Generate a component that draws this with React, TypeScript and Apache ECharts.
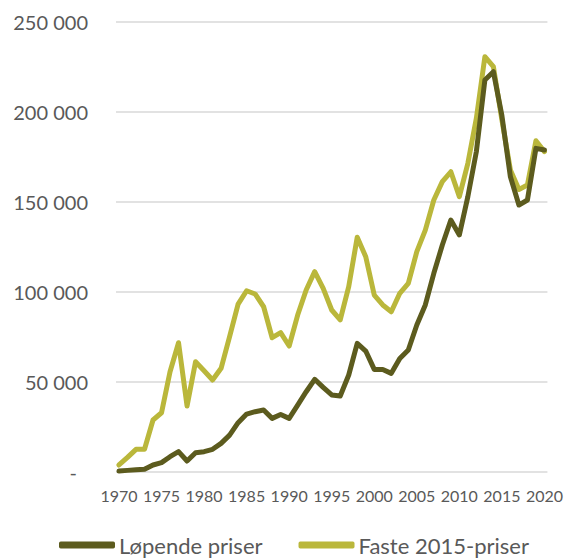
import React, { useEffect, useRef } from "react";
import * as echarts from "echarts";

const years: number[] = [];
for (let y = 1970; y <= 2020; y++) years.push(y);

const lopende: number[] = [
  500, 900, 1200, 1500, 3900, 5200, 8500, 11300, 6100, 10700,
  11300, 12600, 15900, 20500, 27400, 32200, 33500, 34400, 29800, 32000,
  29800, 37200, 44600, 51500, 47000, 42800, 42200, 53900, 71500, 67200,
  57000, 57000, 54800, 63100, 67800, 81700, 92800, 110400, 126100, 140000,
  131700, 153000, 178000, 217800, 222400, 198000, 164000, 148300, 151100, 179800,
  178900,
];

const faste: number[] = [
  3900, 8100, 12600, 12600, 28900, 32900, 55700, 71800, 36700, 61300,
  56300, 51100, 57600, 75200, 93300, 100700, 98900, 91800, 74600, 77400,
  70000, 87200, 101100, 111300, 102000, 90000, 84500, 103000, 130400, 119600,
  98300, 92800, 89000, 99300, 104800, 122400, 134400, 151100, 161300, 166800,
  153000, 171500, 196500, 230700, 225200, 195600, 167800, 157000, 159400, 184000,
  178000,
];

const xTicks = [1970, 1975, 1980, 1985, 1990, 1995, 2000, 2005, 2010, 2015, 2020];
const seriesNames = ["Løpende priser", "Faste 2015-priser"];

const FONT = "Lato, 'Open Sans', sans-serif";
const TEXT = "#595959";

export default function App() {
  const ref = useRef<HTMLDivElement>(null);
  useEffect(() => {
    if (!ref.current) return;
    const chart = echarts.init(ref.current, undefined, { renderer: "svg" });
    chart.setOption({
      animation: false,
      textStyle: { fontFamily: FONT, color: TEXT },
      grid: { left: 116, right: 16, top: 22, bottom: 86, containLabel: false },
      legend: {
        left: 59,
        top: 534,
        padding: 0,
        itemWidth: 56,
        itemHeight: 7,
        itemGap: 36,
        icon: "roundRect",
        textStyle: { fontFamily: FONT, fontSize: 22, color: TEXT, padding: [0, 0, 0, -1] },
        data: seriesNames,
      },
      xAxis: {
        type: "value",
        min: 1969.65,
        max: 2020.35,
        axisLine: { show: false },
        axisTick: { show: false },
        splitLine: { show: false },
        axisLabel: {
          customValues: xTicks,
          fontSize: 16,
          color: TEXT,
          margin: 15,
          fontFamily: FONT,
          formatter: (v: number) => String(Math.round(v)),
        },
      },
      yAxis: {
        type: "value",
        min: 0,
        max: 250000,
        interval: 50000,
        axisLine: { show: false },
        axisTick: { show: false },
        splitLine: { lineStyle: { color: "#d9d9d9", width: 1.5 } },
        axisLabel: {
          fontSize: 20,
          color: TEXT,
          margin: 28,
          fontFamily: FONT,
          formatter: (v: number) => {
            if (v === 0) return "{z|-}";
            const s = String(v);
            return s.slice(0, s.length - 3) + " " + s.slice(s.length - 3);
          },
          rich: { z: { fontSize: 20, color: TEXT, fontFamily: FONT, padding: [0, 11, 0, 0] } },
        },
      },
      series: [
        {
          name: seriesNames[0],
          type: "line",
          data: years.map((y, i) => [y, lopende[i]]),
          showSymbol: false,
          symbol: "none",
          lineStyle: { color: "#5c5b1e", width: 5, cap: "round", join: "round" },
          itemStyle: { color: "#5c5b1e" },
          z: 3,
        },
        {
          name: seriesNames[1],
          type: "line",
          data: years.map((y, i) => [y, faste[i]]),
          showSymbol: false,
          symbol: "none",
          lineStyle: { color: "#bab73b", width: 5, cap: "round", join: "round" },
          itemStyle: { color: "#bab73b" },
          z: 2,
        },
      ],
    });
    return () => chart.dispose();
  }, []);
  return <div ref={ref} style={{ width: 566, height: 558, position: "absolute", left: 0, top: 0 }} />;
}
